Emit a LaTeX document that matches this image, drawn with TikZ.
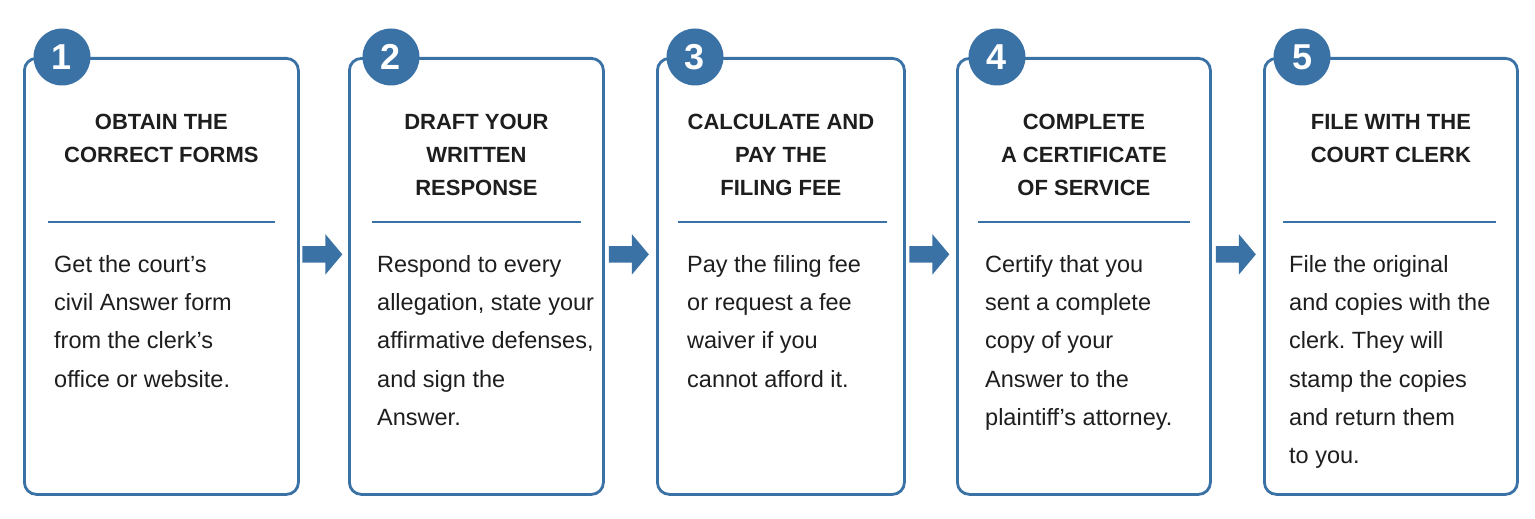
\documentclass[tikz,border=0pt]{standalone}
\usepackage{fontspec}
\setmainfont{Liberation Sans}
\usepackage{xcolor}
\usetikzlibrary{positioning,shapes.arrows}

\definecolor{stepblue}{HTML}{3A72A6}
\definecolor{inktext}{HTML}{1E1E1E}

\tikzset{
  stepbox/.style={draw=stepblue, line width=2.8pt, rounded corners=12pt, fill=white,
    minimum height=436pt, anchor=north west, inner sep=0pt},
  numdot/.style={circle, fill=stepblue, minimum size=57pt, inner sep=0pt, text=white,
    font=\fontsize{36}{36}\selectfont\bfseries},
  headtxt/.style={align=center, inner sep=0pt, text=inktext,
    font=\fontsize{22}{33}\selectfont\bfseries},
  bodytxt/.style={align=left, inner sep=0pt, text=inktext,
    font=\fontsize{23.5}{38.3}\selectfont\frenchspacing},
  sepline/.style={stepblue, line width=2.4pt},
  flowarrow/.style={single arrow, fill=stepblue, draw=none, inner xsep=0pt, inner ysep=8pt,
    minimum height=40pt, minimum width=40pt, single arrow head extend=12pt,
    single arrow tip angle=100, xshift=-5pt},
}

\begin{document}
\begin{tikzpicture}[x=1pt, y=-1pt]
    \fill[white] (0,0) rectangle (1535,519);
    \useasboundingbox (0,0) rectangle (1535,519);

    % 枠
    \node[stepbox, minimum width=274pt] (b1) at (23,57) {};
    \node[stepbox, minimum width=254pt] (b2) at (348,57) {};
    \node[stepbox, minimum width=247pt] (b3) at (656,57) {};
    \node[stepbox, minimum width=253pt] (b4) at (956,57) {};
    \node[stepbox, minimum width=253pt] (b5) at (1263,57) {};

    % 番号
    \node[numdot] (n1) at ([xshift=39pt]b1.north west) {1};
    \node[numdot] (n2) at ([xshift=43pt]b2.north west) {2};
    \node[numdot] (n3) at ([xshift=39pt]b3.north west) {3};
    \node[numdot] (n4) at ([xshift=41pt]b4.north west) {4};
    \node[numdot] (n5) at ([xshift=39pt]b5.north west) {5};

    % 見出し
    \node[headtxt, below=57pt of b1.north] (h1) {OBTAIN THE\\CORRECT FORMS};
    \node[headtxt, below=57pt of b2.north] (h2) {DRAFT YOUR\\WRITTEN\\RESPONSE};
    \node[headtxt, below=57pt of b3.north] (h3) {CALCULATE AND\\PAY THE\\FILING FEE};
    \node[headtxt, below=57pt of b4.north] (h4) {COMPLETE\\A CERTIFICATE\\OF SERVICE};
    \node[headtxt, below=57pt of b5.north] (h5) {FILE WITH THE\\COURT CLERK};

    % 区切り線
    \draw[sepline] ([xshift=25pt,yshift=-165pt]b1.north west) -- ([xshift=-25pt,yshift=-165pt]b1.north east);
    \draw[sepline] ([xshift=24pt,yshift=-165pt]b2.north west) -- ([xshift=-24pt,yshift=-165pt]b2.north east);
    \draw[sepline] ([xshift=22pt,yshift=-165pt]b3.north west) -- ([xshift=-19pt,yshift=-165pt]b3.north east);
    \draw[sepline] ([xshift=22pt,yshift=-165pt]b4.north west) -- ([xshift=-22pt,yshift=-165pt]b4.north east);
    \draw[sepline] ([xshift=20pt,yshift=-165pt]b5.north west) -- ([xshift=-23pt,yshift=-165pt]b5.north east);

    % 本文
    \node[bodytxt, below right=198pt and 31pt of b1.north west] (t1)
      {Get the court’s\\civil Answer form\\from the clerk’s\\office or website.};
    \node[bodytxt, below right=198pt and 29pt of b2.north west] (t2)
      {Respond to every\\allegation, state your\\affirmative defenses,\\and sign the\\Answer.};
    \node[bodytxt, below right=198pt and 31pt of b3.north west] (t3)
      {Pay the filing fee\\or request a fee\\waiver if you\\cannot afford it.};
    \node[bodytxt, below right=198pt and 29pt of b4.north west] (t4)
      {Certify that you\\sent a complete\\copy of your\\Answer to the\\plaintiff’s attorney.};
    \node[bodytxt, below right=198pt and 26pt of b5.north west] (t5)
      {File the original\\and copies with the\\clerk. They will\\stamp the copies\\and return them\\to you.};

    % 矢印
    \path ([yshift=22pt]b1.east) -- node[flowarrow] (a1) {} ([yshift=22pt]b2.west);
    \path ([yshift=22pt]b2.east) -- node[flowarrow] (a2) {} ([yshift=22pt]b3.west);
    \path ([yshift=22pt]b3.east) -- node[flowarrow] (a3) {} ([yshift=22pt]b4.west);
    \path ([yshift=22pt]b4.east) -- node[flowarrow] (a4) {} ([yshift=22pt]b5.west);
\end{tikzpicture}
\end{document}
